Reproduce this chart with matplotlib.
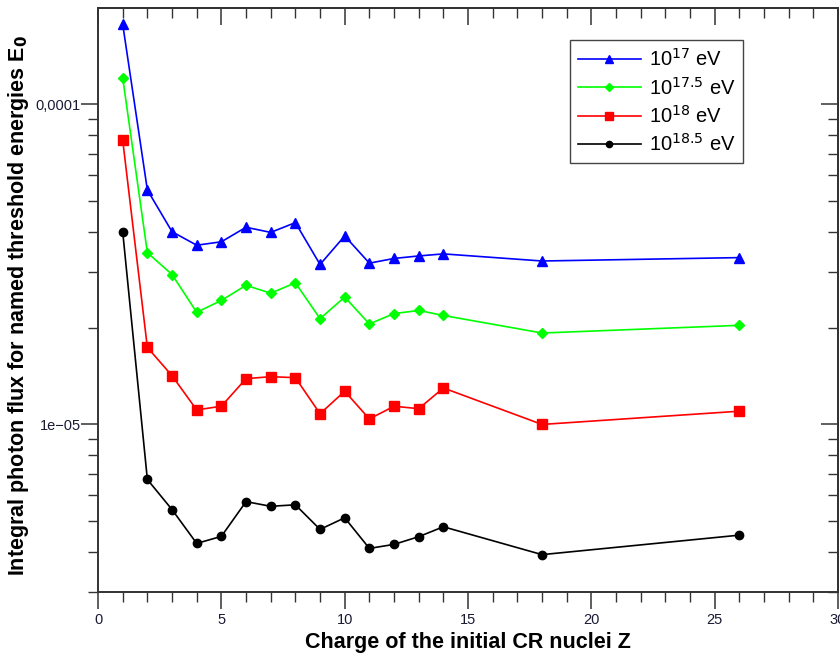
import numpy as np
import matplotlib
matplotlib.use('Agg')
import matplotlib.pyplot as plt

plt.rcParams['font.family'] = ['Liberation Sans', 'DejaVu Sans']

# charge of the initial CR nuclei
z = [1, 2, 3, 4, 5, 6, 7, 8, 9, 10, 11, 12, 13, 14, 18, 26]

# integral photon flux for each threshold energy
flux_17 = [1.78e-4, 5.40e-5, 4.00e-5, 3.63e-5, 3.72e-5, 4.13e-5, 3.98e-5, 4.27e-5,
           3.16e-5, 3.88e-5, 3.19e-5, 3.30e-5, 3.36e-5, 3.41e-5, 3.24e-5, 3.32e-5]
flux_175 = [1.21e-4, 3.44e-5, 2.94e-5, 2.24e-5, 2.44e-5, 2.72e-5, 2.57e-5, 2.77e-5,
            2.14e-5, 2.50e-5, 2.06e-5, 2.22e-5, 2.27e-5, 2.19e-5, 1.93e-5, 2.04e-5]
flux_18 = [7.73e-5, 1.74e-5, 1.42e-5, 1.11e-5, 1.14e-5, 1.39e-5, 1.41e-5, 1.40e-5,
           1.08e-5, 1.27e-5, 1.04e-5, 1.14e-5, 1.12e-5, 1.30e-5, 1.00e-5, 1.10e-5]
flux_185 = [4.00e-5, 6.73e-6, 5.42e-6, 4.25e-6, 4.47e-6, 5.74e-6, 5.55e-6, 5.61e-6,
            4.70e-6, 5.11e-6, 4.10e-6, 4.22e-6, 4.46e-6, 4.79e-6, 3.92e-6, 4.51e-6]

labels = ['10$^{17}$ eV', '10$^{17.5}$ eV', '10$^{18}$ eV', '10$^{18.5}$ eV']
ytick_vals = [1e-5, 1e-4]
ytick_labels = ['1e\u221205', '0,0001']
ylim = (3e-6, 2e-4)

fig = plt.figure(figsize=(8.4, 6.62), dpi=100)
ax = fig.add_axes([0.1167, 0.106, 0.881, 0.882])

ax.plot(z, flux_17, color='#0000ff', lw=1.2, marker='^', ms=7, label=labels[0])
ax.plot(z, flux_175, color='#00ff00', lw=1.2, marker='D', ms=5, label=labels[1])
ax.plot(z, flux_18, color='#ff0000', lw=1.2, marker='s', ms=7, label=labels[2])
ax.plot(z, flux_185, color='#000000', lw=1.2, marker='o', ms=6, label=labels[3])

ax.set_yscale('log')

minor_y = [m * 10.0**e for e in (-6, -5) for m in range(2, 10)]
minor_y = [v for v in minor_y if ylim[0] <= v <= ylim[1]]
ax.set_xticks(np.arange(0, 31, 5))
ax.set_xticks(np.arange(0, 31, 1), minor=True)
ax.set_yticks(ytick_vals, labels=ytick_labels)
ax.set_yticks(minor_y, minor=True)
ax.yaxis.set_minor_formatter(plt.NullFormatter())
ax.set_xlim(0, 30)
ax.set_ylim(*ylim)

tick_col = '#333333'
lab_col = '#1a1a33'
ax.tick_params(which='major', direction='out', length=12, width=1.1, color=tick_col,
               labelsize=10.5, labelcolor=lab_col, pad=3)
ax.tick_params(axis='y', which='major', pad=0.5)
ax.tick_params(which='minor', direction='out', length=7, width=1.0, color=tick_col)

for sp in ax.spines.values():
    sp.set_linewidth(1.4)
    sp.set_color(tick_col)

# inward ticks on top and right
top = ax.secondary_xaxis('top')
top.set_xticks(np.arange(0, 31, 5))
top.set_xticks(np.arange(0, 31, 1), minor=True)
top.tick_params(which='major', direction='in', length=12, width=1.1, color=tick_col,
                labeltop=False)
top.tick_params(which='minor', direction='in', length=7, width=1.0, color=tick_col)
top.spines['top'].set_linewidth(1.4)
top.spines['top'].set_color(tick_col)

right = ax.secondary_yaxis('right')
right.set_yticks(ytick_vals)
right.set_yticks(minor_y, minor=True)
right.tick_params(which='major', direction='in', length=12, width=1.1, color=tick_col,
                  labelright=False)
right.tick_params(which='minor', direction='in', length=7, width=1.0, color=tick_col,
                  labelright=False)
right.spines['right'].set_linewidth(1.4)
right.spines['right'].set_color(tick_col)
ax.set_ylim(*ylim)

ax.set_xlabel('Charge of the initial CR nuclei Z', fontsize=15.5, fontweight='bold',
              labelpad=4)
ax.set_ylabel('Integral photon flux for named threshold energies E$_\\mathbf{0}$',
              fontsize=15.5, fontweight='bold')
ax.yaxis.set_label_coords(-0.091, 0.49)

leg = ax.legend(loc='upper right', bbox_to_anchor=(0.872, 0.945), borderaxespad=0,
                fontsize=14.5, handlelength=3.1, fancybox=False, framealpha=1,
                edgecolor='#444444', markerscale=0.75, labelspacing=0.32,
                borderpad=0.4, handletextpad=0.4)
leg.get_frame().set_linewidth(1.0)

fig.savefig('out.png', dpi=100)
